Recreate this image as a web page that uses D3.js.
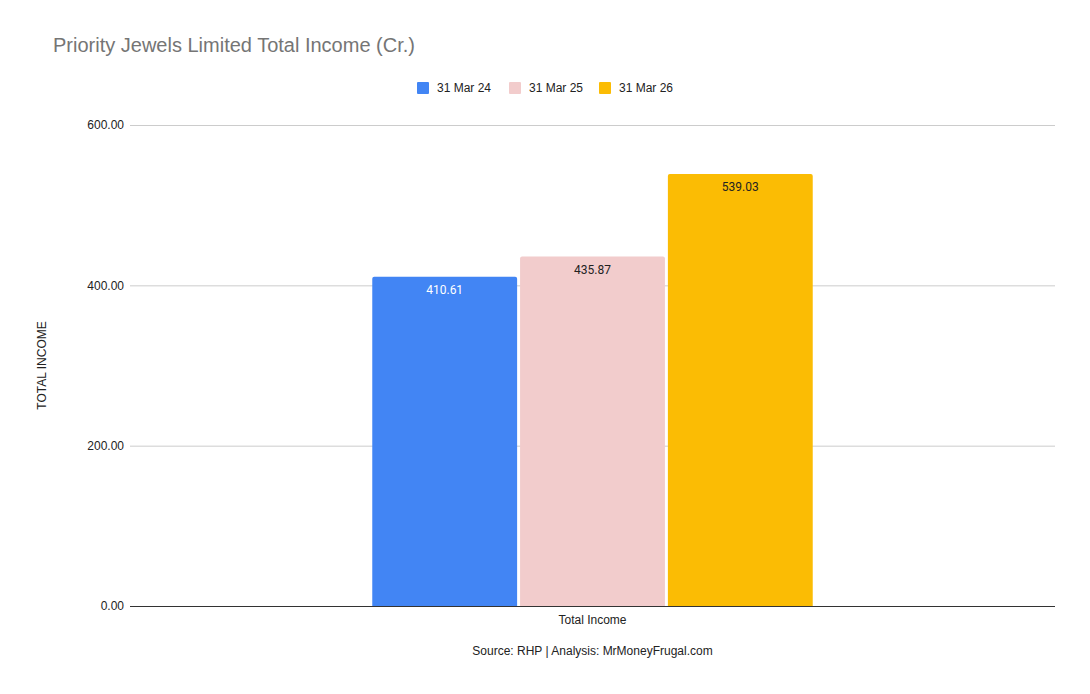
<!DOCTYPE html>
<html>
<head>
<meta charset="utf-8">
<script src="https://d3js.org/d3.v7.min.js"></script>
<style>
  body { margin: 0; background: #fff; }
  text { font-family: "Liberation Sans", Arial, sans-serif; }
</style>
</head>
<body>
<div id="chart"></div>
<script>
// Data
const categories = ["Total Income"];
const seriesNames = ["31 Mar 24", "31 Mar 25", "31 Mar 26"];
const seriesValues = [410.61, 435.87, 539.03];
const seriesColors = ["#4285f4", "#f2cccc", "#fbbc04"];
const labelColors = ["#ffffff", "#222222", "#222222"];
const yTicks = [0, 200, 400, 600];

const W = 1090, H = 694;
const margin = { top: 125, right: 35, bottom: 88, left: 130 };
const innerW = W - margin.left - margin.right;
const innerH = H - margin.top - margin.bottom;

const svg = d3.select("#chart").append("svg")
    .attr("width", W)
    .attr("height", H);

// Title
svg.append("text")
    .attr("x", 53)
    .attr("y", 52)
    .attr("fill", "#757575")
    .style("font-size", "20px")
    .text("Priority Jewels Limited Total Income (Cr.)");

// Scales
const y = d3.scaleLinear().domain([0, 600]).range([innerH, 0]);
const x0 = d3.scaleBand().domain(categories).range([0, innerW]).paddingInner(0).paddingOuter(0.55);
const x1 = d3.scaleBand().domain(seriesNames).range([0, x0.bandwidth()]).paddingInner(0.02);

const g = svg.append("g").attr("transform", `translate(${margin.left},${margin.top})`);

// Gridlines
g.selectAll("line.grid")
    .data(yTicks.filter(d => d > 0))
    .enter()
    .append("line")
    .attr("class", "grid")
    .attr("x1", 0)
    .attr("x2", innerW)
    .attr("y1", d => y(d) + 0.5)
    .attr("y2", d => y(d) + 0.5)
    .attr("stroke", "#cccccc");

// Y tick labels
g.selectAll("text.ytick")
    .data(yTicks)
    .enter()
    .append("text")
    .attr("class", "ytick")
    .attr("x", -6)
    .attr("y", d => y(d))
    .attr("dy", "0.35em")
    .attr("text-anchor", "end")
    .attr("fill", "#222")
    .style("font-size", "12px")
    .text(d => d3.format(".2f")(d));

// Bars
const rows = seriesNames.map((s, i) => ({ name: s, value: seriesValues[i], color: seriesColors[i], label: labelColors[i] }));

const group = g.selectAll("g.cat")
    .data(categories)
    .enter()
    .append("g")
    .attr("transform", d => `translate(${x0(d)},0)`);

group.selectAll("path.bar")
    .data(rows)
    .enter()
    .append("path")
    .attr("class", "bar")
    .attr("fill", d => d.color)
    .attr("d", d => {
        const bx = x1(d.name), bw = x1.bandwidth(), top = y(d.value), bot = y(0), r = 2;
        return `M${bx},${bot} L${bx},${top + r} Q${bx},${top} ${bx + r},${top} L${bx + bw - r},${top} Q${bx + bw},${top} ${bx + bw},${top + r} L${bx + bw},${bot} Z`;
    });

group.selectAll("text.val")
    .data(rows)
    .enter()
    .append("text")
    .attr("class", "val")
    .attr("x", d => x1(d.name) + x1.bandwidth() / 2)
    .attr("y", d => y(d.value) + 17)
    .attr("text-anchor", "middle")
    .attr("fill", d => d.label)
    .style("font-family", "Roboto, sans-serif")
    .style("font-size", "12px")
    .text(d => d3.format(".2f")(d.value));

// Baseline
g.append("line")
    .attr("x1", 0)
    .attr("x2", innerW)
    .attr("y1", y(0) + 0.5)
    .attr("y2", y(0) + 0.5)
    .attr("stroke", "#333");

// Category label
g.selectAll("text.cat")
    .data(categories)
    .enter()
    .append("text")
    .attr("class", "cat")
    .attr("x", d => x0(d) + x0.bandwidth() / 2)
    .attr("y", innerH + 18)
    .attr("text-anchor", "middle")
    .attr("fill", "#222")
    .style("font-size", "12px")
    .text(d => d);

// Axis title
svg.append("text")
    .attr("transform", `translate(46,${margin.top + innerH / 2}) rotate(-90)`)
    .attr("text-anchor", "middle")
    .attr("fill", "#222")
    .style("font-size", "12px")
    .text("TOTAL INCOME");

// Source note
svg.append("text")
    .attr("x", margin.left + innerW / 2)
    .attr("y", 655)
    .attr("text-anchor", "middle")
    .attr("fill", "#222")
    .style("font-size", "12px")
    .text("Source: RHP | Analysis: MrMoneyFrugal.com");

// Legend
const legendX = [417, 509, 599];
const legend = svg.selectAll("g.legend")
    .data(rows)
    .enter()
    .append("g")
    .attr("class", "legend")
    .attr("transform", (d, i) => `translate(${legendX[i]},82)`);

legend.append("rect")
    .attr("width", 12)
    .attr("height", 12)
    .attr("rx", 1)
    .attr("fill", d => d.color);

legend.append("text")
    .attr("x", 20)
    .attr("y", 6)
    .attr("dy", "0.35em")
    .attr("fill", "#222")
    .style("font-size", "12px")
    .text(d => d.name);
</script>
</body>
</html>
